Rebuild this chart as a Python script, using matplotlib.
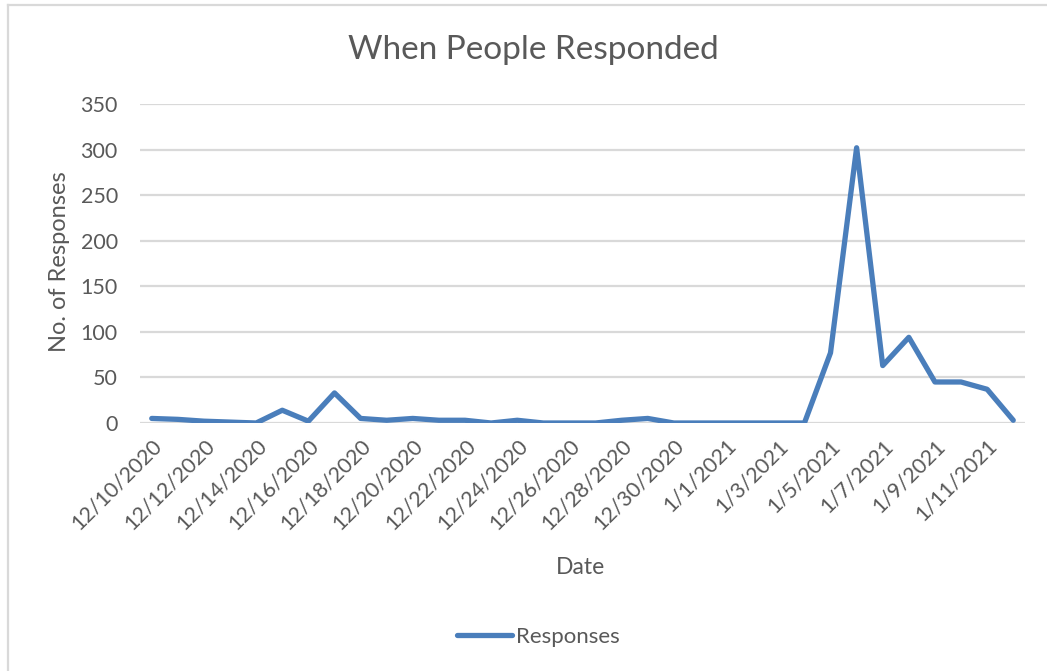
import matplotlib
matplotlib.use("Agg")
import matplotlib.pyplot as plt
from matplotlib.lines import Line2D
import numpy as np
import datetime as dt

# Daily response counts, 12/10/2020 through 1/12/2021
start = dt.date(2020, 12, 10)
responses = [5, 4, 2, 1, 0, 14, 2, 33, 5, 3, 5, 3, 3, 0, 3, 0, 0, 0, 3, 5,
             0, 0, 0, 0, 0, 0, 77, 302, 63, 94, 45, 45, 37, 3]
dates = [start + dt.timedelta(days=i) for i in range(len(responses))]
date_labels = [f"{d.month}/{d.day}/{d.year}" for d in dates]
y_ticks = [0, 50, 100, 150, 200, 250, 300, 350]

plt.rcParams['font.family'] = ['Lato', 'DejaVu Sans']
text_color = '#595959'
line_color = '#4a7ebb'

W, H = 1047, 671
fig = plt.figure(figsize=(W / 100, H / 100), dpi=100)

# chart-area frame (top and left edges)
frame_kw = dict(transform=fig.transFigure, color='#d9d9d9', linewidth=1.6)
fig.lines.append(Line2D([8 / W, 8 / W], [0, 1 - 5 / H], **frame_kw))
fig.lines.append(Line2D([8 / W, 1], [1 - 5 / H, 1 - 5 / H], **frame_kw))

ax = fig.add_axes([140 / W, 1 - 423 / H, 885 / W, 319 / H])
x = np.arange(len(responses))
line, = ax.plot(x, responses, color=line_color, linewidth=3.8,
                solid_joinstyle='round', solid_capstyle='round', label='Responses', zorder=3)

ax.set_xlim(-0.45, len(responses) - 0.55)
ax.set_ylim(0, 350)
ax.set_yticks(y_ticks)
ax.set_yticklabels([str(v) for v in y_ticks], fontsize=15.5, color=text_color)
ax.set_xticks(x[::2])
ax.set_xticklabels(date_labels[::2], rotation=45, ha='right', va='top',
                   rotation_mode='anchor', fontsize=15.5, color=text_color)
ax.tick_params(axis='both', length=0)
ax.tick_params(axis='x', pad=9)
ax.tick_params(axis='y', pad=16)
ax.grid(axis='y', color='#d9d9d9', linewidth=1.6)
ax.set_axisbelow(True)
for s in ax.spines.values():
    s.set_visible(False)

fig.text(59 / W, 1 - 262 / H, 'No. of Responses', fontsize=17, color=text_color,
         ha='center', va='center', rotation=90)
fig.text(581 / W, 1 - 568 / H, 'Date', fontsize=16.5, color=text_color,
         ha='center', va='center')
fig.text(533 / W, 1 - 50 / H, 'When People Responded', fontsize=24,
         color=text_color, ha='center', va='center')

fig.legend(handles=[line], loc='center', bbox_to_anchor=(538 / W, 1 - 637 / H),
           frameon=False, fontsize=16, labelcolor=text_color, handlelength=2.5,
           handletextpad=0.15)

fig.savefig('out.png', dpi=100, facecolor='white')
